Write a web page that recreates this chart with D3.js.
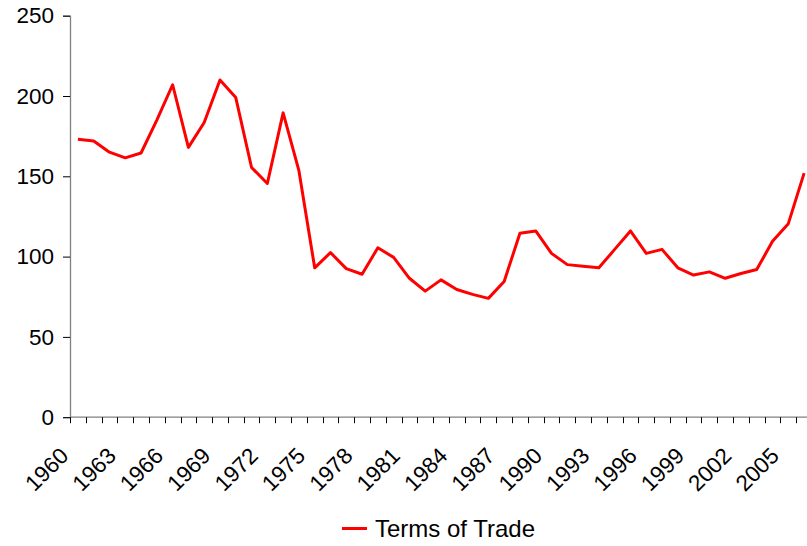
<!DOCTYPE html>
<html>
<head>
<meta charset="utf-8">
<script src="https://cdn.jsdelivr.net/npm/d3@7"></script>
<style>
  body { margin: 0; background: #fff; }
  svg { display: block; font-family: "Liberation Sans", Arial, sans-serif; }
</style>
</head>
<body>
<div id="canvas"></div>
<script>
/* Data */
const YEARS = d3.range(1960, 2007)
const TERMS_OF_TRADE = [
  173, 172, 165, 161.5, 164.5, 185, 207, 168, 183.5, 210,
  199, 155.5, 145.5, 189.5, 153.5, 93, 102.5, 92.5, 89, 105.5,
  99.5, 86.5, 78.5, 85.5, 79.5, 76.5, 74, 84.5, 114.5, 116,
  102, 95, 94, 93, 104.5, 116, 102, 104.5, 93, 88.5,
  90.5, 86.5, 89.5, 92, 109.5, 120.5, 152
]
const Y_TICKS = [0, 50, 100, 150, 200, 250]
const X_LABELS = YEARS.filter((d) => (d - 1960) % 3 === 0)
const SERIES_NAME = "Terms of Trade"

/* Layout constants */
const WIDTH = 807
const HEIGHT = 546
const PLOT = {"left": 70, "right": 812, "top": 15.7, "bottom": 417.2}
const LINE_COLOR = "#FF0000"
const AXIS_COLOR = "#808080"
const FONT_SIZE = 22.5

const data = YEARS.map((y, i) => ({"year": y, "value": TERMS_OF_TRADE[i]}))

const svg = d3.select("#canvas")
              .append("svg")
              .attr("width", WIDTH)
              .attr("height", HEIGHT);

const xScale = d3.scaleBand()
                 .domain(YEARS)
                 .range([PLOT.left, PLOT.right]);
const yScale = d3.scaleLinear()
                 .domain([0, 250])
                 .range([PLOT.bottom, PLOT.top]);

/* Y axis */
const yAxis = d3.axisLeft(yScale).tickValues(Y_TICKS).tickSize(7).tickPadding(9);
const gy = svg.append("g")
              .attr("transform", "translate(" + PLOT.left + ", 0)")
              .call(yAxis);
gy.select(".domain").attr("stroke", AXIS_COLOR).attr("stroke-width", 1.3);
gy.selectAll(".tick line").attr("stroke", "#000");
gy.selectAll(".tick text")
  .attr("font-size", FONT_SIZE)
  .attr("font-family", "Liberation Sans, Arial, sans-serif")
  .attr("fill", "#000");

/* X axis: ticks on category boundaries */
const boundaries = YEARS.map((d) => xScale(d));
const gx = svg.append("g");
gx.append("line")
  .attr("x1", PLOT.left)
  .attr("x2", PLOT.right)
  .attr("y1", PLOT.bottom)
  .attr("y2", PLOT.bottom)
  .attr("stroke", AXIS_COLOR)
  .attr("stroke-width", 1.3);
gx.selectAll("line.tick")
  .data(boundaries)
  .enter()
  .append("line")
  .attr("class", "tick")
  .attr("x1", (d) => Math.round(d) + 0.5)
  .attr("x2", (d) => Math.round(d) + 0.5)
  .attr("y1", PLOT.bottom)
  .attr("y2", PLOT.bottom + 6)
  .attr("stroke", "#000");
gx.selectAll("text")
  .data(X_LABELS)
  .enter()
  .append("text")
  .attr("transform", (d) => "translate(" + (xScale(d) + xScale.bandwidth() / 2 - 8) + ", " + (PLOT.bottom + 40) + ") rotate(-45)")
  .attr("text-anchor", "end")
  .attr("font-size", FONT_SIZE)
  .attr("fill", "#000")
  .text((d) => d);

/* Line */
const line = d3.line()
               .x((d) => xScale(d.year) + xScale.bandwidth() / 2)
               .y((d) => yScale(d.value));
svg.append("path")
   .datum(data)
   .attr("fill", "none")
   .attr("stroke", LINE_COLOR)
   .attr("stroke-width", 3)
   .attr("stroke-linejoin", "round")
   .attr("d", line);

/* Legend */
const legend = svg.append("g").attr("transform", "translate(342, 528.5)");
legend.append("line")
      .attr("x1", 0)
      .attr("x2", 25)
      .attr("stroke", LINE_COLOR)
      .attr("stroke-width", 3);
legend.append("text")
      .attr("x", 33)
      .attr("y", 8)
      .attr("font-size", 24)
      .attr("fill", "#000")
      .text(SERIES_NAME);
</script>
</body>
</html>
